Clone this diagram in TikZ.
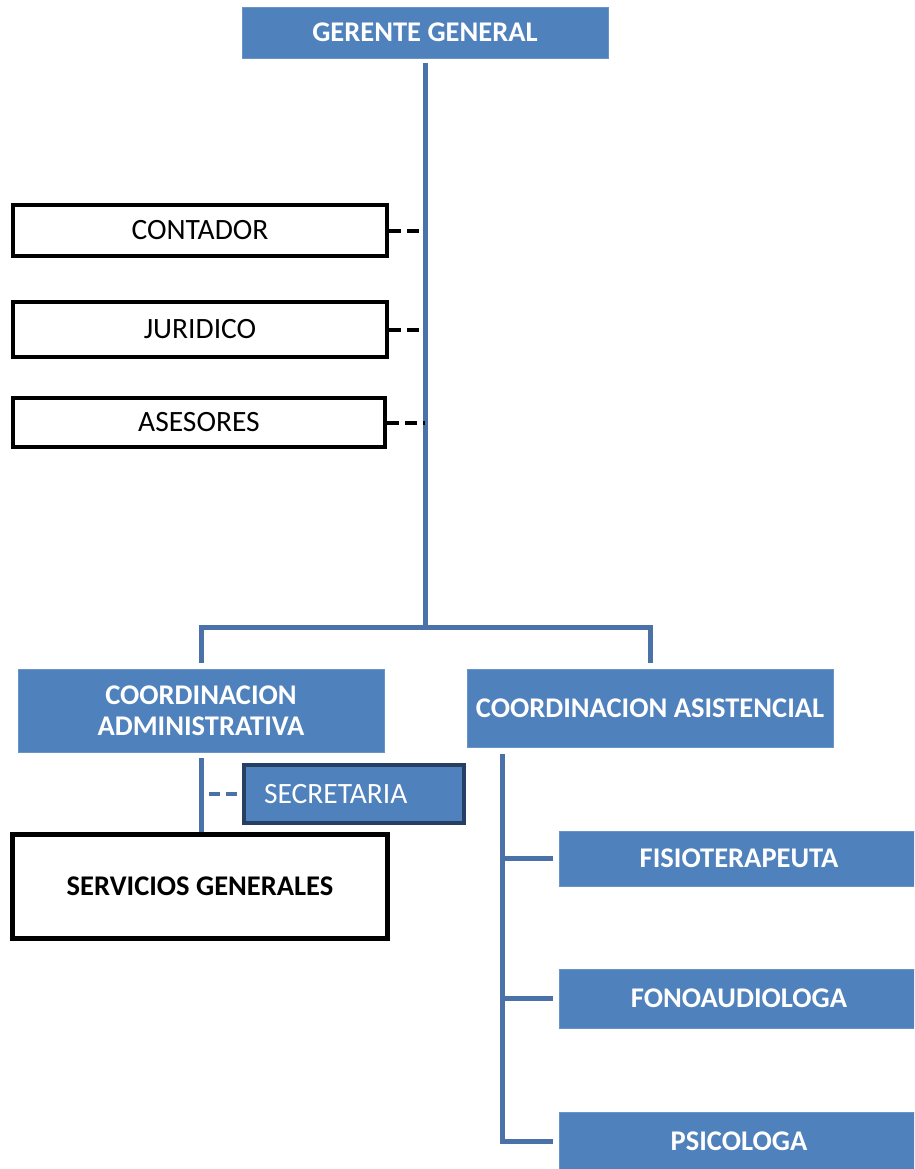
\documentclass[tikz,border=0pt]{standalone}
\usepackage{fontspec}
\setmainfont{Carlito}
\definecolor{boxblue}{HTML}{4F81BD}
\definecolor{lineblue}{HTML}{4A72A8}
\definecolor{darkedge}{HTML}{263F62}
\tikzset{
  bluebox/.style={rectangle, fill=boxblue, draw=boxblue!85!white, line width=0.8pt, text=white, font=\fontsize{28.5}{31}\selectfont\bfseries, inner sep=0pt, align=center},
  blackbox/.style={rectangle, fill=white, draw=black, line width=4pt, text=black, font=\fontsize{29.5}{33}\selectfont, inner sep=0pt, align=center},
  conn/.style={draw=lineblue, line width=5pt},
  bdash/.style={draw=black, line width=4pt, dash pattern=on 12pt off 6pt},
  ldash/.style={draw=lineblue, line width=4pt, dash pattern=on 11pt off 6pt}
}
\begin{document}
\begin{tikzpicture}[x=1pt,y=-1pt]
\useasboundingbox (0,0) rectangle (914,1169);
\clip (0,0) rectangle (914,1169);
% nodes
\node[bluebox, minimum width=366pt, minimum height=51pt] (ger) at (425,32.5) {GERENTE GENERAL};
\node[blackbox, minimum width=374pt, minimum height=51pt] (con) at (200,230.5) {CONTADOR};
\node[blackbox, minimum width=374pt, minimum height=55pt] (jur) at (200,329.5) {JURIDICO};
\node[blackbox, minimum width=372pt, minimum height=49pt] (ase) at (199,422.5) {ASESORES};
\node[bluebox, minimum width=366pt, minimum height=83pt] (adm) at (201,710.5) {COORDINACION\\ADMINISTRATIVA};
\node[bluebox, minimum width=366pt, minimum height=78pt] (ast) at (650,708) {COORDINACION ASISTENCIAL};
\node[rectangle, fill=boxblue, draw=darkedge, line width=4pt, text=white, font=\fontsize{29.5}{33}\selectfont, minimum width=220pt, minimum height=58pt, text width=180pt, align=left, inner xsep=20pt, inner ysep=0pt] (sec) at (354,794) {SECRETARIA};
\node[blackbox, line width=5pt, minimum width=375pt, minimum height=104pt, font=\fontsize{28.5}{31}\selectfont\bfseries] (ser) at (200,886.5) {SERVICIOS GENERALES};
\node[bluebox, minimum width=360pt, minimum height=55pt] (fis) at (739,858.5) {FISIOTERAPEUTA};
\node[bluebox, minimum width=360pt, minimum height=59pt] (fon) at (739,998.5) {FONOAUDIOLOGA};
\node[bluebox, minimum width=360pt, minimum height=58pt] (psi) at (739,1141) {PSICOLOGA};
% coordinates
\coordinate (busC) at (425,627);
\coordinate (busL) at (201,627);
\coordinate (busR) at (650,627);
\coordinate (rtop) at (502,754);
% connectors
\draw[conn] ([yshift=-5pt]ger.south) -- (busC);
\draw[conn, line cap=rect] (busL) -- (busR);
\draw[conn] (busL) -- ([yshift=6pt]adm.north -| busL);
\draw[conn] (busR) -- ([yshift=6pt]ast.north -| busR);
\draw[bdash] (con.east) -- (con.east -| busC);
\draw[bdash] (jur.east) -- (jur.east -| busC);
\draw[bdash] (ase.east) -- (ase.east -| busC);
\draw[conn] ([yshift=-6pt]adm.south) -- (adm.south |- ser.north);
\draw[ldash] ([xshift=-33pt]sec.west) -- (sec.west);
\draw[conn] (rtop) -- (rtop |- psi.west) -- ([xshift=-6pt]psi.west);
\draw[conn] (rtop |- fis.west) -- ([xshift=-6pt]fis.west);
\draw[conn] (rtop |- fon.west) -- ([xshift=-6pt]fon.west);
\end{tikzpicture}
\end{document}
